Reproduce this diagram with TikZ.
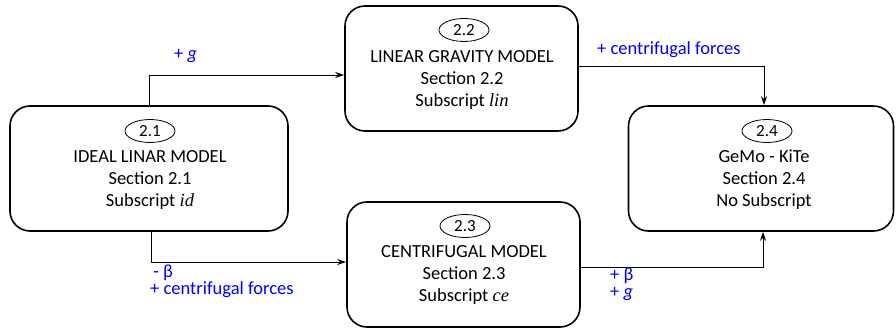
\documentclass[tikz,border=0pt]{standalone}
\usepackage{fontspec}
\setmainfont{Carlito}
\newfontfamily\mfont{Liberation Serif}
\usetikzlibrary{arrows.meta,shapes.geometric}
\tikzset{
  box/.style={draw,line width=1.6pt,rounded corners=20pt,minimum height=125pt},
  num/.style={draw,ellipse,line width=0.8pt,minimum width=50pt,minimum height=23pt,inner sep=0pt,font=\fontsize{17}{17}\selectfont},
  txt/.style={align=center,font=\fontsize{18.5}{22}\selectfont},
  lbl/.style={text=blue,align=left,anchor=west,font=\fontsize{18.5}{17}\selectfont,inner sep=0pt},
  arr/.style={line width=1pt,-{Stealth[length=9pt,width=6pt]}}
}
\begin{document}
\begin{tikzpicture}[x=1pt,y=-1pt]
\useasboundingbox (0,0) rectangle (896,329);
\node[box,minimum width=278pt] (b1) at (149,168.5) {};
\node[box,minimum width=233pt] (b2) at (461.5,68.5) {};
\node[box,minimum width=233pt] (b3) at (463.5,264.5) {};
\node[box,minimum width=265pt] (b4) at (761,168.5) {};
\node[num] (e1) at (150,131) {2.1};
\node[num] (e2) at (464,30) {2.2};
\node[num] (e3) at (465,226) {2.3};
\node[num] (e4) at (767,131) {2.4};
\node[txt] (t1) at (150,180) {IDEAL LINAR MODEL\\Section 2.1\\Subscript {\mfont\itshape id}};
\node[txt] (t2) at (462,80) {LINEAR GRAVITY MODEL\\Section 2.2\\Subscript {\mfont\itshape lin}};
\node[txt] (t3) at (464,275) {CENTRIFUGAL MODEL\\Section 2.3\\Subscript {\mfont\itshape ce}};
\node[txt] (t4) at (764,180) {GeMo - KiTe\\Section 2.4\\No Subscript};
\draw[arr] (b1.north) |- ([yshift=-6.5pt]b2.west);
\draw[arr] ([xshift=2pt]b1.south) |- ([yshift=2.5pt]b3.west);
\draw[arr] ([yshift=2.5pt]b2.east) -| ([xshift=3pt]b4.north);
\draw[arr] ([yshift=-2.5pt]b3.east) -| ([xshift=2pt]b4.south);
\node[lbl] (l1) at (174,56) {+ \textit{g}};
\node[lbl] (l2) at (597,50) {+ centrifugal forces};
\node[lbl] (l3) at (150,281) {\,- β\\+ centrifugal forces};
\node[lbl] (l4) at (610,284) {+ β\\+ \textit{g}};
\end{tikzpicture}
\end{document}
